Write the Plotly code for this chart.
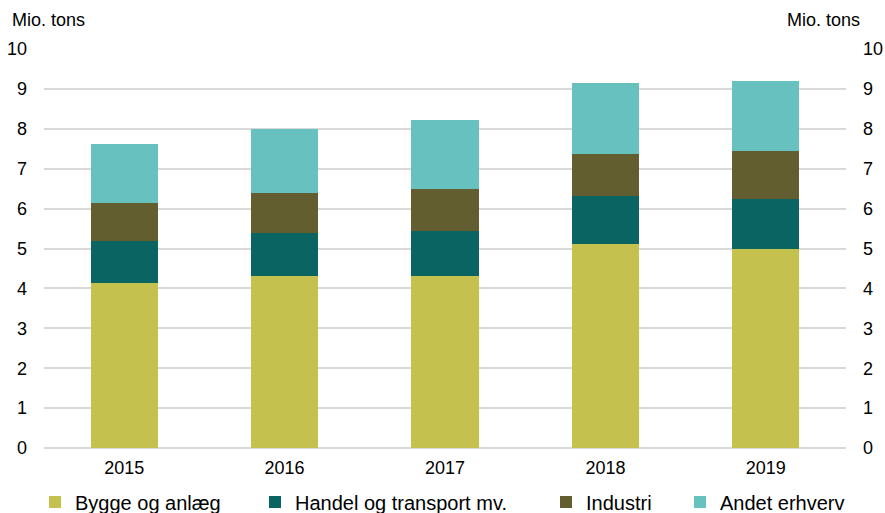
import plotly.graph_objects as go

years = ["2015", "2016", "2017", "2018", "2019"]
bygge = [4.14, 4.30, 4.32, 5.12, 4.99]
handel = [1.05, 1.08, 1.13, 1.19, 1.25]
industri = [0.95, 1.02, 1.04, 1.07, 1.21]
andet = [1.49, 1.60, 1.74, 1.78, 1.76]

series = [
    ("Bygge og anlæg", bygge, "#C4C14E"),
    ("Handel og transport mv.", handel, "#0A6462"),
    ("Industri", industri, "#625E30"),
    ("Andet erhverv", andet, "#67C1BE"),
]

FONT = "Liberation Sans, Arial, sans-serif"
W, H = 885, 513
ML, MR, MT, MB = 44, 39, 49, 65

# one single-entry legend per series, spread along the bottom edge
legend_left_px = [35, 255, 546, 680]
legend_names = ["legend", "legend2", "legend3", "legend4"]

fig = go.Figure()
for (name, vals, col), lg in zip(series, legend_names):
    fig.add_trace(go.Bar(x=years, y=vals, name=name, marker_color=col,
                         marker_line_width=0, legend=lg))

legend_common = dict(orientation="h", xref="container", yref="container",
                     y=(H - 502) / H, yanchor="middle", xanchor="left",
                     font=dict(size=20), bgcolor="rgba(0,0,0,0)",
                     itemwidth=30)
for lg, px in zip(legend_names, legend_left_px):
    fig.layout[lg] = dict(legend_common, x=px / W)

fig.update_layout(
    width=W, height=H,
    margin=dict(l=ML, r=MR, t=MT, b=MB, autoexpand=False),
    barmode="stack", bargap=0.58,
    plot_bgcolor="white", paper_bgcolor="white",
    font=dict(family=FONT, size=18, color="#000000"),
    xaxis=dict(showgrid=False, showline=False, ticks="", automargin=False,
               ticklabelstandoff=7, tickfont=dict(size=18)),
    yaxis=dict(range=[0, 10], dtick=1, showgrid=True, gridcolor="#D9D9D9",
               gridwidth=2, zeroline=True, zerolinecolor="#D9D9D9",
               zerolinewidth=2, ticks="", ticklabelstandoff=16,
               automargin=False, tickfont=dict(size=18)),
    yaxis2=dict(range=[0, 10], dtick=1, overlaying="y", side="right",
                showgrid=False, zeroline=False, ticks="", automargin=False,
                ticklabelstandoff=16, tickfont=dict(size=18)),
    showlegend=True,
)

# axis headings above each value axis
pw, ph = W - ML - MR, H - MT - MB
fig.add_annotation(text="Mio. tons", xref="paper", yref="paper",
                   x=(10 - ML) / pw, y=1 + 29 / ph, xanchor="left",
                   yanchor="middle", showarrow=False, font=dict(size=18))
fig.add_annotation(text="Mio. tons", xref="paper", yref="paper",
                   x=1 + 16 / pw, y=1 + 29 / ph, xanchor="right",
                   yanchor="middle", showarrow=False, font=dict(size=18))

# invisible trace so the right-hand axis is drawn
fig.add_trace(go.Scatter(x=years, y=[None] * len(years), yaxis="y2",
                         showlegend=False, hoverinfo="skip"))

fig.write_html("out.html")
